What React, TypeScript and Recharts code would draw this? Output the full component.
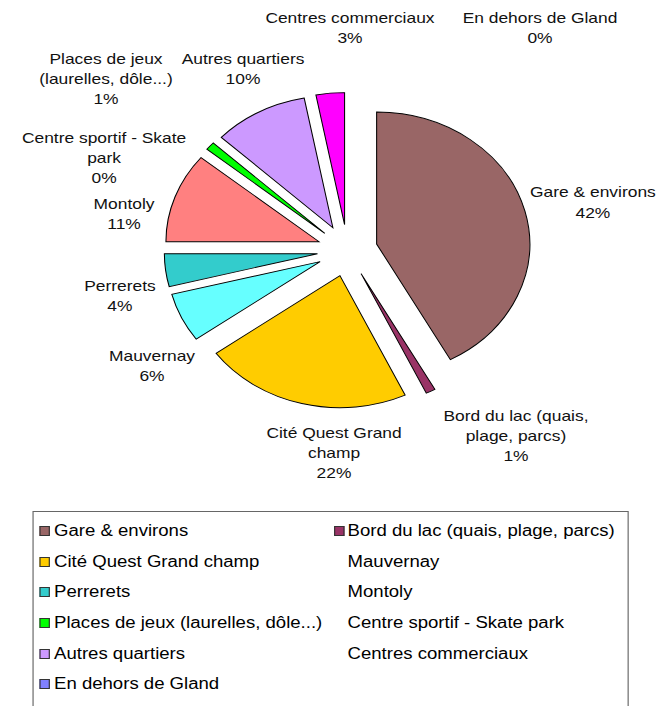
import React from "react";
import { PieChart, Pie, Cell, Legend, Sector } from "recharts";

// categories, in the order of the sheet (clockwise from 12 o'clock)
const categories = [
  "Gare & environs",
  "Bord du lac (quais, plage, parcs)",
  "Cité Quest Grand champ",
  "Mauvernay",
  "Perrerets",
  "Montoly",
  "Places de jeux (laurelles, dôle...)",
  "Centre sportif - Skate park",
  "Autres quartiers",
  "Centres commerciaux",
  "En dehors de Gland",
];

// share of answers, in %
const shares = [42, 1, 22, 6, 4, 11, 1, 0, 10, 3, 0];

// how the slice labels wrap
const labelLines = [
  ["Gare & environs"],
  ["Bord du lac (quais,", "plage, parcs)"],
  ["Cité Quest Grand", "champ"],
  ["Mauvernay"],
  ["Perrerets"],
  ["Montoly"],
  ["Places de jeux", "(laurelles, dôle...)"],
  ["Centre sportif - Skate", "park"],
  ["Autres quartiers"],
  ["Centres commerciaux"],
  ["En dehors de Gland"],
];

const colors = [
  "#996666",
  "#993366",
  "#FFCC00",
  "#66FFFF",
  "#33CCCC",
  "#FF8080",
  "#00FF00",
  "#FFFFFF",
  "#CC99FF",
  "#FF00FF",
  "#8080FF",
];

// legend entries drawn without a colour box (as in the original export)
const noSwatch = new Set([
  "Mauvernay",
  "Montoly",
  "Centre sportif - Skate park",
  "Centres commerciaux",
]);

// label placement: nudges from a point 70px outside the rim (Excel "best fit")
const labelNudge: [number, number][] = [
  [16, -8.3],
  [53.6, -15.5],
  [38.7, -13.2],
  [14.3, 18.5],
  [4.3, 9.2],
  [-2.5, 20.9],
  [-56.6, -58.9],
  [-62.5, 24.8],
  [7.3, -15.5],
  [21.2, -32.4],
  [166, -31.5],
];

const data = categories.map((name, i) => ({ name, value: shares[i] }));

const RAD = Math.PI / 180;
const EXPLODE = 26;
const STRETCH = 1.16;
const W = 568;
const H = 706;
const FONT = "'Liberation Sans', Arial, sans-serif";

const ExplodedSector = (props: any) => {
  const { cx, cy, midAngle } = props;
  const dx = EXPLODE * Math.cos(-midAngle * RAD);
  const dy = EXPLODE * Math.sin(-midAngle * RAD);
  return <Sector {...props} cx={cx + dx} cy={cy + dy} />;
};

const SliceLabel = (props: any) => {
  const { cx, cy, midAngle, outerRadius, percent, index } = props;
  const r = outerRadius + 70;
  const x = cx + r * Math.cos(-midAngle * RAD) + labelNudge[index][0];
  const y = cy + r * Math.sin(-midAngle * RAD) + labelNudge[index][1];
  const lines = [...labelLines[index], `${Math.round(percent * 100)}%`];
  return (
    <text
      x={x}
      y={y}
      textAnchor="middle"
      dominantBaseline="central"
      fontFamily={FONT}
      fontSize={15}
      fill="#111"
    >
      {lines.map((t, k) => (
        <tspan key={k} x={x} dy={k === 0 ? 0 : 20}>
          {t}
        </tspan>
      ))}
    </text>
  );
};

const LegendBox = (props: any) => {
  const payload = [...(props.payload || [])].sort(
    (a: any, b: any) => categories.indexOf(a.value) - categories.indexOf(b.value)
  );
  return (
    <div
      style={{
        border: "1px solid #666",
        width: 514,
        height: 200,
        boxSizing: "border-box",
        paddingTop: 4,
        display: "grid",
        gridTemplateColumns: "259px 255px",
        gridAutoRows: "30.6px",
        fontFamily: FONT,
        fontSize: 16,
        color: "#000",
        background: "#fff",
      }}
    >
      {payload.map((p: any, i: number) => (
        <div
          key={i}
          style={{
            display: "flex",
            alignItems: "center",
            paddingLeft: i % 2 === 0 ? 5 : 0,
            whiteSpace: "nowrap",
          }}
        >
          <span
            style={{
              display: "inline-block",
              width: 9,
              height: 10,
              boxSizing: "border-box",
              border: noSwatch.has(p.value) ? "none" : "1px solid #333",
              background: noSwatch.has(p.value) ? "transparent" : p.color,
              marginRight: i % 2 === 0 ? 4 : 3,
            }}
          />
          {p.value}
        </div>
      ))}
    </div>
  );
};

export default function App() {
  return (
    <div
      style={{
        position: "absolute",
        left: 0,
        top: 0,
        width: W,
        height: H,
        transform: `scaleX(${STRETCH})`,
        transformOrigin: "0 0",
        background: "#fff",
        overflow: "hidden",
      }}
    >
      <style>{"svg.recharts-surface{overflow:visible}"}</style>
      <PieChart width={W} height={H}>
        <Pie
          data={data}
          dataKey="value"
          nameKey="name"
          cx={294.5}
          cy={245.5}
          outerRadius={132}
          startAngle={90}
          endAngle={-270}
          stroke="#000"
          strokeWidth={0.9}
          shape={ExplodedSector}
          label={SliceLabel}
          labelLine={false}
          isAnimationActive={false}
        >
          {data.map((d, i) => (
            <Cell key={d.name} fill={colors[i]} />
          ))}
        </Pie>
        <Legend
          content={LegendBox}
          verticalAlign="bottom"
          align="left"
          wrapperStyle={{ left: 27.6, top: 511, bottom: "auto", width: 514 }}
        />
      </PieChart>
    </div>
  );
}
